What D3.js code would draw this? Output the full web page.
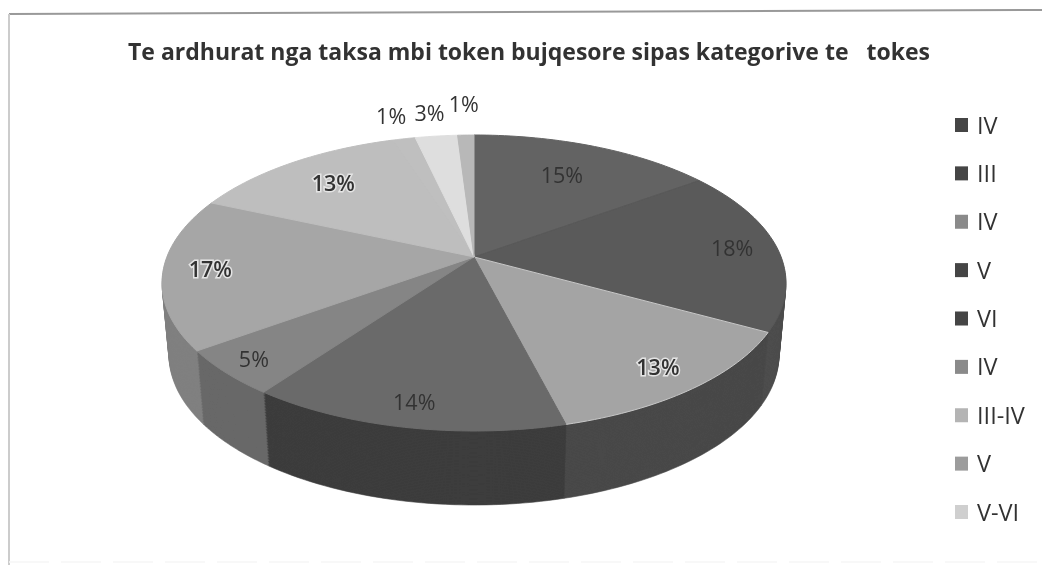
<!DOCTYPE html>
<html>
<head>
<meta charset="utf-8">
<script src="https://cdn.jsdelivr.net/npm/d3@7"></script>
<style>
  html, body { margin: 0; padding: 0; background: #fff; }
  svg { display: block; }
  text { font-family: "Open Sans", sans-serif; fill: #333; }
</style>
</head>
<body>
<svg id="chart" width="1042" height="565"></svg>
<script>
var title = "Te ardhurat nga taksa mbi token bujqesore sipas kategorive te   tokes"

// slices, clockwise from 12 o'clock
var sliceValues = [15, 18, 13, 14, 5, 16.6, 13.4, 1.4, 2.6, 1]
var sliceColors = ["#636363", "#5a5a5a", "#a4a4a4", "#6b6b6b", "#858585", "#a6a6a6", "#bebebe", "#bfbfbf", "#dedede", "#b8b8b8"]
var sliceEdges = ["#636363", "#5a5a5a", "#c8c8c8", "#6b6b6b", "#858585", "#a6a6a6", "#bebebe", "#bfbfbf", "#dedede", "#b8b8b8"]
var sideColors = ["#444", "#4e4e4e", "#484848", "#3c3c3c", "#686868", "#808080", "#999", "#999", "#aaa", "#999"]

var legendLabels = ["IV", "III", "IV", "V", "VI", "IV", "III-IV", "V", "V-VI"]
var legendColors = ["#444", "#444", "#8a8a8a", "#444", "#444", "#8a8a8a", "#b4b4b4", "#9c9c9c", "#cfcfcf"]

// label placement, radius as fraction of the pie
var labelRadius = [0.7, 0.85, 0.86, 0.88, 0.9, 0.85, 0.75, 1.22, 1.22, 1.3]
var labelHalo = [false, false, true, false, false, true, true, false, false, false]

var svg = d3.select("#chart")

var defs = svg.append("defs")
defs.append("filter").attr("id", "scan")
   .append("feGaussianBlur").attr("stdDeviation", 0.6)

var root = svg.append("g").attr("filter", "url(#scan)")

// scan edges
root.append("line").attr("x1", 9).attr("x2", 1042).attr("y1", 14).attr("y2", 10)
   .attr("stroke", "#999").attr("stroke-width", 2)
root.append("line").attr("x1", 9).attr("x2", 9).attr("y1", 14).attr("y2", 565)
   .attr("stroke", "#ccc").attr("stroke-width", 2)
root.append("line").attr("x1", 9).attr("x2", 1042).attr("y1", 562).attr("y2", 562)
   .attr("stroke", "#f6f6f6").attr("stroke-width", 1.5)
   .attr("stroke-dasharray", "40 12")

root.append("text")
   .attr("x", 529).attr("y", 60)
   .attr("text-anchor", "middle")
   .attr("font-size", 23)
   .attr("font-weight", 700)
   .style("white-space", "pre")
   .text(title)

// perspective pie: a disc automorphism moves the centre above the ellipse middle
var tilt = -0.176
function project(angle, r, ell) {
   var u = r * Math.sin(angle), v = -r * Math.cos(angle)
   var d = 1 + tilt * v
   return [ell.cx + ell.rx * u * Math.sqrt(1 - tilt * tilt) / d,
           ell.cy + ell.ry * (v + tilt) / d]
}
var topFace = { cx: 474, cy: 283, rx: 312, ry: 148 }
var bottomFace = { cx: 474, cy: 355, rx: 305, ry: 150 }

var arcs = d3.pie().sort(null)(sliceValues)
var line = d3.line()

function wedge(d, ell) {
   var pts = d3.range(0, 41).map(function(i) {
      return project(d.startAngle + (d.endAngle - d.startAngle) * i / 40, 1, ell)
   })
   return line([project(0, 0, ell)].concat(pts)) + "Z"
}

var pie = root.append("g")

// the wall is a stack of wedges going up from the bottom face to the top face
var faceAt = d3.interpolateObject(bottomFace, topFace)
d3.range(0, 1, 1 / 48).forEach(function(t) {
   var ell = faceAt(t)
   pie.append("g").selectAll("path")
      .data(arcs)
      .join("path")
      .attr("fill", (d, i) => sideColors[i])
      .attr("stroke", (d, i) => sideColors[i])
      .attr("stroke-width", 0.6)
      .attr("d", d => wedge(d, ell))
})

pie.selectAll(".slice")
   .data(arcs)
   .join("path")
   .attr("class", "slice")
   .attr("fill", (d, i) => sliceColors[i])
   .attr("stroke", (d, i) => sliceEdges[i])
   .attr("stroke-width", 1)
   .attr("d", d => wedge(d, topFace))

root.selectAll(".pct")
   .data(arcs)
   .join("text")
   .attr("class", "pct")
   .attr("text-anchor", "middle")
   .attr("font-size", 21.5)
   .attr("font-weight", (d, i) => labelHalo[i] ? 600 : 400)
   .attr("stroke", (d, i) => labelHalo[i] ? "#e4e4e4" : "none")
   .attr("stroke-width", 3)
   .attr("paint-order", "stroke")
   .attr("transform", function(d, i) {
      var p = project((d.startAngle + d.endAngle) / 2, labelRadius[i], topFace)
      return "translate(" + p[0] + "," + (p[1] + 7) + ")"
   })
   .text(d => Math.round(d.value) + "%")

// legend
var legendY = d3.scalePoint().domain(d3.range(legendLabels.length)).range([125, 512])

var legend = root.selectAll(".legend")
   .data(legendLabels)
   .join("g")
   .attr("class", "legend")
   .attr("transform", (d, i) => "translate(955," + legendY(i) + ")")

legend.append("rect")
   .attr("x", 0).attr("y", -7).attr("width", 13).attr("height", 14)
   .attr("fill", (d, i) => legendColors[i])

legend.append("text")
   .attr("x", 22).attr("y", 8.5)
   .attr("font-size", 23.5)
   .text(d => d)
</script>
</body>
</html>
